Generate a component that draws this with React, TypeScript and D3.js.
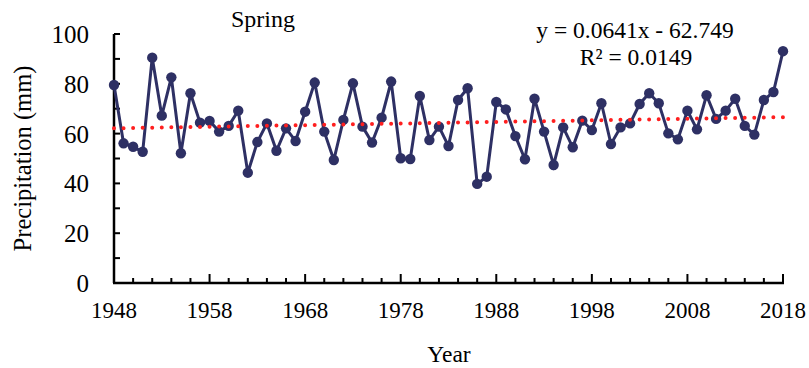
import React from "react"
import * as d3 from "d3"

// spring precipitation, 1948-2018
const years = d3.range(1948, 2019)
const precipitation = [
    79.5, 56.1, 54.7, 52.7, 90.5, 67.2, 82.6, 52.1, 76.2, 64.4,
    65.1, 60.8, 63.1, 69.2, 44.3, 56.6, 64.1, 53.1, 62.1, 57.0,
    68.8, 80.5, 60.8, 49.4, 65.5, 80.2, 62.8, 56.4, 66.4, 80.9,
    50.1, 49.8, 75.1, 57.4, 62.8, 55.0, 73.5, 78.2, 39.8, 42.7,
    72.7, 69.7, 59.0, 49.7, 74.0, 60.8, 47.4, 62.5, 54.5, 65.2,
    61.4, 72.2, 55.8, 62.5, 64.1, 71.9, 76.2, 72.2, 60.1, 57.7,
    69.2, 61.7, 75.4, 65.9, 69.2, 74.0, 63.1, 59.6, 73.5, 76.7,
    93.1,
]
const yTicks = [0, 20, 40, 60, 80, 100]
const yMinorTicks = [10, 30, 50, 70, 90]
const xTicks = [1948, 1958, 1968, 1978, 1988, 1998, 2008, 2018]
const xMinorTicks = d3.range(1950, 2018, 2).filter(y => (y - 1948) % 10 !== 0)

// linear trend as printed on the chart
const trendSlope = 0.0641
const trendIntercept = -62.749
const equationText = "y = 0.0641x - 62.749"
const r2Value = "0.0149"

const font = "'Liberation Serif', 'Times New Roman', serif"
const lineColor = "#2e3064"

export default function App() {
    const width = 809
    const height = 368
    const margin = { left: 114, right: 26, top: 34, bottom: 85 }

    const x = d3.scaleLinear()
        .domain([1948, 2018])
        .range([margin.left, width - margin.right])
    const y = d3.scaleLinear()
        .domain([0, 100])
        .range([height - margin.bottom, margin.top])

    const points = years.map((yr, i) => ({ year: yr, value: precipitation[i] }))

    const line = d3.line<any>()
        .x(d => x(d.year))
        .y(d => y(d.value))

    const trend = d3.line<number>()
        .x(d => x(d))
        .y(d => y(trendSlope * d + trendIntercept))

    const x0 = x(1948)
    const y0 = y(0)
    const txt = { fontFamily: font, fill: "#000" }

    return (
        <svg width={width} height={height} style={{ position: "absolute", left: 0, top: 0, background: "#fff" }}>
            {/* y axis */}
            <line x1={x0} x2={x0} y1={y(100)} y2={y0} stroke="#000" strokeWidth={2.5} />
            {[...yTicks, ...yMinorTicks].map(t => (
                <line key={"yt" + t} x1={x0} x2={x0 + 6} y1={y(t)} y2={y(t)} stroke="#000" strokeWidth={2} />
            ))}
            {yTicks.map(t => (
                <text key={"yl" + t} x={89} y={y(t) + 9} textAnchor="end" fontSize={25} style={txt}>{t}</text>
            ))}

            {/* x axis */}
            <line x1={x0 - 1} x2={x(2018) + 1} y1={y0} y2={y0} stroke="#000" strokeWidth={2.5} />
            {xTicks.map(t => (
                <line key={"xt" + t} x1={x(t)} x2={x(t)} y1={y0} y2={y0 - 9} stroke="#000" strokeWidth={2} />
            ))}
            {xMinorTicks.map(t => (
                <line key={"xm" + t} x1={x(t)} x2={x(t)} y1={y0} y2={y0 - 5} stroke="#000" strokeWidth={2} />
            ))}
            {xTicks.map(t => (
                <text key={"xl" + t} x={x(t)} y={y0 + 35} textAnchor="middle" fontSize={23} style={txt}>{t}</text>
            ))}

            {/* data */}
            <path d={line(points) || ""} fill="none" stroke={lineColor} strokeWidth={3} />
            {points.map(p => (
                <circle key={p.year} cx={x(p.year)} cy={y(p.value)} r={5.2} fill={lineColor} />
            ))}

            {/* trend line */}
            <path d={trend([1948, 2018]) || ""} fill="none" stroke="#ff1f1f" strokeWidth={4}
                strokeLinecap="round" strokeDasharray={`0 ${(x(2018) - x(1948)) / 70}`} />

            {/* labels */}
            <text x={263} y={27} textAnchor="middle" fontSize={24} style={txt}>Spring</text>
            <text x={635} y={38} textAnchor="middle" fontSize={23.5} style={txt}>{equationText}</text>
            <text x={636} y={65} textAnchor="middle" fontSize={23.5} style={txt}>R² = {r2Value}</text>
            <text x={449} y={362} textAnchor="middle" fontSize={23.5} style={txt}>Year</text>
            <text transform={`translate(31,${(y(0) + y(100)) / 2}) rotate(-90)`} textAnchor="middle"
                fontSize={24.5} style={txt}>Precipitation (mm)</text>
        </svg>
    )
}
